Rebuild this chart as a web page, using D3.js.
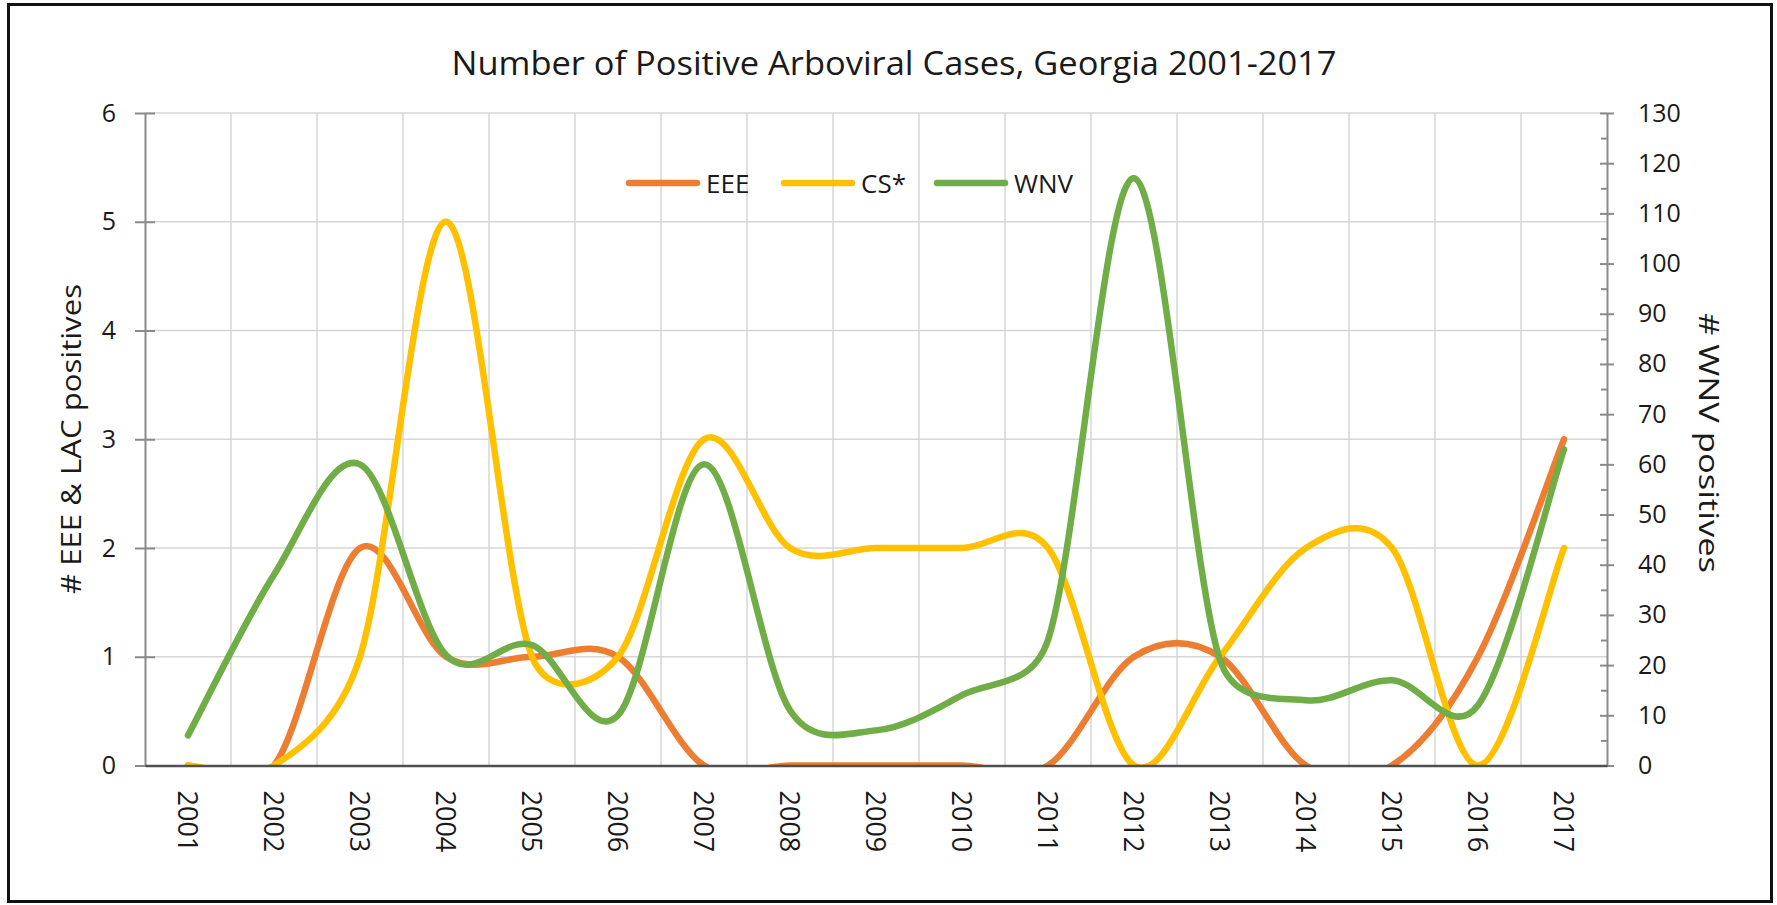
<!DOCTYPE html>
<html>
<head>
<meta charset="utf-8">
<script src="https://cdn.jsdelivr.net/npm/d3@7"></script>
<style>
  html, body { margin: 0; padding: 0; background: #fff; }
  svg { display: block; }
  text { font-family: "Open Sans", "DejaVu Sans", sans-serif; fill: #1a1a1a; }
</style>
</head>
<body>
<svg id="chart" width="1777" height="905"></svg>
<script>
// Yearly positives in Georgia
const years = ["2001","2002","2003","2004","2005","2006","2007","2008","2009",
               "2010","2011","2012","2013","2014","2015","2016","2017"];
const eeeValues = [0, 0, 2, 1, 1, 1, 0, 0, 0, 0, 0, 1, 1, 0, 0, 1, 3];
const csValues  = [0, 0, 1, 5, 1, 1, 3, 2, 2, 2, 2, 0, 1, 2, 2, 0, 2];
const wnvValues = [6, 38, 60, 22, 24, 10, 60, 11, 7, 14, 25, 117, 21, 13, 17, 12, 63];

const leftTicks  = [0, 1, 2, 3, 4, 5, 6];
const rightTicks = [0, 10, 20, 30, 40, 50, 60, 70, 80, 90, 100, 110, 120, 130];
const rightMinorTicks = [5, 15, 25, 35, 45, 55, 65, 75, 85, 95, 105, 115, 125];

const seriesNames  = ["EEE", "CS*", "WNV"];
const seriesColors = ["#ED7D31", "#FFC000", "#70AD47"];

// Spreadsheet-style smoothed line: Catmull-Rom style Bezier segments whose
// control arms are shortened when they would exceed half the segment length.
function SmoothCurve(context) { this._context = context; }
SmoothCurve.prototype = {
  areaStart() {}, areaEnd() {},
  lineStart() { this._pts = []; },
  point(x, y) { this._pts.push([+x, +y]); },
  lineEnd() {
    const p = this._pts, n = p.length, ctx = this._context;
    if (!n) return;
    const dist = (a, b) => Math.hypot(b[0] - a[0], b[1] - a[1]);
    const arm = (span, seg) => (span / 6 < seg / 2 || span === 0) ? 1 / 6 : seg / (2 * span);
    ctx.moveTo(p[0][0], p[0][1]);
    for (let i = 0; i < n - 1; i++) {
      const p0 = p[Math.max(i - 1, 0)], p1 = p[i], p2 = p[i + 1], p3 = p[Math.min(i + 2, n - 1)];
      const d12 = dist(p1, p2), d02 = dist(p0, p2), d13 = dist(p1, p3);
      const f1 = arm(d02, d12), f2 = arm(d13, d12);
      ctx.bezierCurveTo(
        p1[0] + (p2[0] - p0[0]) * f1, p1[1] + (p2[1] - p0[1]) * f1,
        p2[0] - (p3[0] - p1[0]) * f2, p2[1] - (p3[1] - p1[1]) * f2,
        p2[0], p2[1]);
    }
  }
};
const curveSmooth = ctx => new SmoothCurve(ctx);

// Plot frame
const W = 1777, H = 905;
const plot = { left: 145, right: 1607, top: 113, bottom: 765.5 };

const svg = d3.select("#chart");
svg.append("rect").attr("width", W).attr("height", H).attr("fill", "#fff");
svg.append("rect")
  .attr("x", 8.5).attr("y", 4.5).attr("width", 1763).attr("height", 897)
  .attr("fill", "none").attr("stroke", "#111").attr("stroke-width", 3);

const x = d3.scaleBand().domain(years).range([plot.left, plot.right]).padding(0);
const xc = d => x(d) + x.bandwidth() / 2;
const yL = d3.scaleLinear().domain([0, 6]).range([plot.bottom, plot.top]);
const yR = d3.scaleLinear().domain([0, 130]).range([plot.bottom, plot.top]);

// Title
svg.append("text")
  .attr("x", 894).attr("y", 75)
  .attr("text-anchor", "middle")
  .attr("font-size", 33)
  .attr("textLength", 885).attr("lengthAdjust", "spacingAndGlyphs")
  .text("Number of Positive Arboviral Cases, Georgia 2001-2017");

// Gridlines
const grid = svg.append("g").attr("stroke", "#d6d6d6").attr("stroke-width", 1.5);
grid.selectAll("line.h").data(leftTicks.filter(t => t > 0)).join("line")
  .attr("x1", plot.left).attr("x2", plot.right)
  .attr("y1", d => yL(d)).attr("y2", d => yL(d));
grid.selectAll("line.v").data(years.slice(1)).join("line")
  .attr("x1", d => x(d)).attr("x2", d => x(d))
  .attr("y1", plot.top).attr("y2", plot.bottom);

// Series lines, clipped to the plot area
svg.append("clipPath").attr("id", "plot-clip")
  .append("rect")
  .attr("x", plot.left).attr("y", plot.top)
  .attr("width", plot.right - plot.left).attr("height", plot.bottom - plot.top);

const series = [
  { name: seriesNames[0], color: seriesColors[0], values: eeeValues, y: yL },
  { name: seriesNames[1], color: seriesColors[1], values: csValues,  y: yL },
  { name: seriesNames[2], color: seriesColors[2], values: wnvValues, y: yR }
];

const lines = svg.append("g").attr("clip-path", "url(#plot-clip)");
series.forEach(s => {
  const line = d3.line()
    .x((d, i) => xc(years[i]))
    .y(d => s.y(d))
    .curve(curveSmooth);
  lines.append("path")
    .attr("d", line(s.values))
    .attr("fill", "none")
    .attr("stroke", s.color)
    .attr("stroke-width", 6.5)
    .attr("stroke-linecap", "round")
    .attr("stroke-linejoin", "round");
});

// Left axis
const gL = svg.append("g")
  .attr("transform", `translate(${plot.left},0)`)
  .call(d3.axisLeft(yL).tickValues(leftTicks).tickFormat(d3.format("d"))
    .tickSize(10).tickSizeOuter(0).tickPadding(19));
gL.select(".domain").attr("stroke", "#8a8a8a").attr("stroke-width", 2);
gL.selectAll(".tick line").attr("x1", 10).attr("stroke", "#8a8a8a").attr("stroke-width", 2);
gL.selectAll(".tick text").attr("font-size", 25).attr("fill", "#1a1a1a")
  .style("font-family", "'Open Sans', sans-serif");

// Right axis, major and minor ticks
const gR = svg.append("g")
  .attr("transform", `translate(${plot.right},0)`)
  .call(d3.axisRight(yR).tickValues(rightTicks).tickFormat(d3.format("d"))
    .tickSize(7).tickSizeOuter(0).tickPadding(24));
gR.select(".domain").attr("stroke", "#8a8a8a").attr("stroke-width", 2);
gR.selectAll(".tick line").attr("x1", -7).attr("stroke", "#8a8a8a").attr("stroke-width", 2);
gR.selectAll(".tick text").attr("font-size", 25).attr("fill", "#1a1a1a")
  .style("font-family", "'Open Sans', sans-serif");

const gRm = svg.append("g")
  .attr("transform", `translate(${plot.right},0)`)
  .call(d3.axisRight(yR).tickValues(rightMinorTicks).tickFormat("")
    .tickSize(-6).tickSizeOuter(0));
gRm.select(".domain").remove();
gRm.selectAll(".tick line").attr("stroke", "#8a8a8a").attr("stroke-width", 2);

// Category axis with rotated year labels
const gB = svg.append("g")
  .attr("transform", `translate(0,${plot.bottom})`)
  .call(d3.axisBottom(x).tickSize(0).tickSizeOuter(0));
gB.select(".domain").attr("stroke", "#4f4f4f").attr("stroke-width", 2.5);
gB.selectAll(".tick text")
  .attr("transform", "rotate(90)")
  .attr("x", 25).attr("y", 0).attr("dy", "0.36em")
  .attr("font-size", 27).attr("fill", "#1a1a1a")
  .style("text-anchor", "start")
  .style("font-family", "'Open Sans', sans-serif");

// Axis titles
svg.append("text")
  .attr("transform", "translate(81,439) rotate(-90)")
  .attr("text-anchor", "middle")
  .attr("font-size", 27)
  .attr("textLength", 310).attr("lengthAdjust", "spacingAndGlyphs")
  .text("# EEE & LAC positives");

svg.append("text")
  .attr("transform", "translate(1699,443) rotate(90)")
  .attr("text-anchor", "middle")
  .attr("font-size", 27)
  .attr("textLength", 260).attr("lengthAdjust", "spacingAndGlyphs")
  .text("# WNV positives");

// Legend
const legendX = [629, 784, 937];
const legend = svg.append("g");
series.forEach((s, i) => {
  const g = legend.append("g").attr("transform", `translate(${legendX[i]},183)`);
  g.append("line")
    .attr("x1", 0).attr("x2", 68).attr("y1", 0).attr("y2", 0)
    .attr("stroke", s.color).attr("stroke-width", 6.5).attr("stroke-linecap", "round");
  g.append("text")
    .attr("x", 77).attr("y", 10)
    .attr("font-size", 26)
    .text(s.name);
});
</script>
</body>
</html>
